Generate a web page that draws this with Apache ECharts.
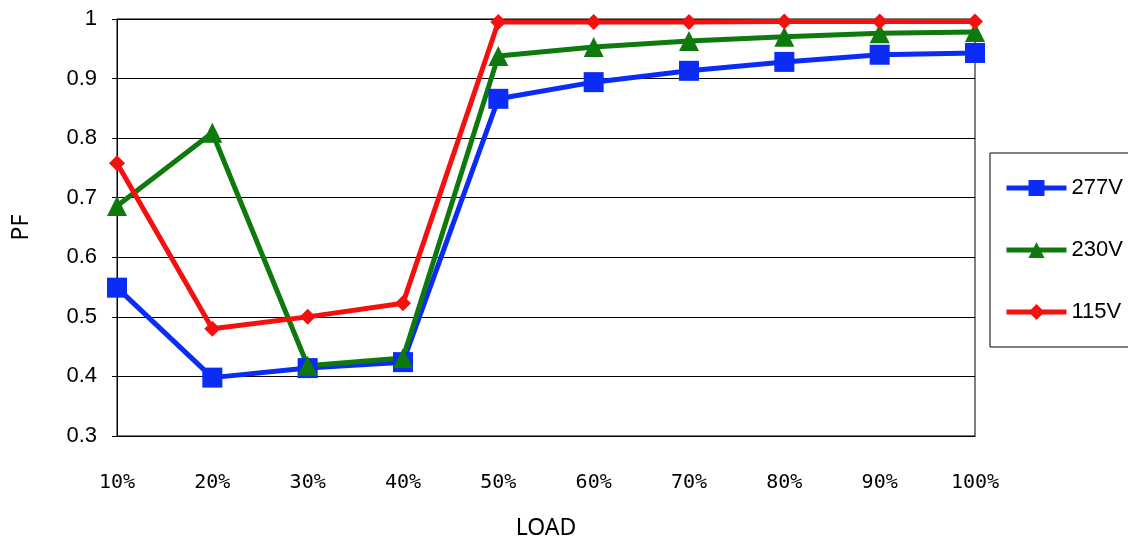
<!DOCTYPE html>
<html><head><meta charset="utf-8">
<script src="https://cdn.jsdelivr.net/npm/echarts@6/dist/echarts.min.js"></script>
<style>html,body{margin:0;background:#fff}#c{width:1128px;height:545px}</style>
</head><body><div id="c"></div>
<script>
const categories=['10%','20%','30%','40%','50%','60%','70%','80%','90%','100%'];
const v277=[0.549,0.398,0.414,0.424,0.866,0.894,0.913,0.928,0.940,0.943];
const v230=[0.686,0.809,0.418,0.431,0.938,0.953,0.963,0.970,0.976,0.978];
const v115=[0.758,0.480,0.500,0.523,0.995,0.995,0.995,0.996,0.996,0.996];
const yTicks=[0.3,0.4,0.5,0.6,0.7,0.8,0.9,1];
const font='"DejaVu Sans Mono", monospace';
const chart=echarts.init(document.getElementById('c'));
function s(name,data,color,symbol,size){return {name,type:'line',data,symbol,symbolSize:size,
 lineStyle:{color,width:5},itemStyle:{color},emphasis:{disabled:true}};}
chart.setOption({
 animation:false,
 grid:{left:117,right:153,top:19,bottom:109,outerBoundsMode:'none',containLabel:false,show:true,borderColor:'#000',borderWidth:1},
 legend:{orient:'vertical',left:990,top:153,width:150,height:194,padding:[24,10,24,14],itemGap:40,
  itemWidth:60,itemHeight:20,borderColor:'#000',borderWidth:1,
  lineStyle:{width:5},
  textStyle:{fontFamily:'"Liberation Sans"',fontSize:22,color:'#000'},
  data:['277V','230V','115V']},
 xAxis:{type:'category',data:categories,boundaryGap:false,name:'LOAD',nameLocation:'middle',nameGap:81,
  nameTextStyle:{fontFamily:'"Noto Sans"',fontSize:23,color:'#000'},
  axisLine:{lineStyle:{color:'#000'}},axisTick:{show:false},
  axisLabel:{fontFamily:font,fontSize:20,color:'#000',margin:37},splitLine:{show:false}},
 yAxis:{type:'value',min:0.3,max:1,interval:0.1,name:'PF',nameLocation:'middle',nameGap:84,
  nameTextStyle:{fontFamily:'"Noto Sans"',fontSize:23,color:'#000'},
  axisLine:{show:true,lineStyle:{color:'#000'}},axisTick:{show:true,inside:false,length:5,lineStyle:{color:'#000'}},
  axisLabel:{fontFamily:'"Liberation Sans"',fontSize:22,color:'#000',margin:20,
   formatter:v=>{const t=yTicks.find(x=>Math.abs(x-v)<1e-6);return t===undefined?'':String(t);}},
  splitLine:{lineStyle:{color:'#000',width:1}}},
 series:[s('277V',v277,'#0a2cf5','rect',20),s('230V',v230,'#0e7a0e','triangle',20),s('115V',v115,'#f51010','diamond',16)]
});
</script></body></html>
